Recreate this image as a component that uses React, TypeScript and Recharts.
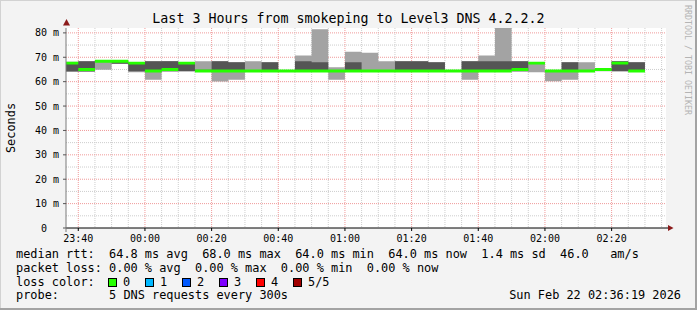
import React from "react";
import { Area, CartesianGrid, ComposedChart, XAxis, YAxis } from "recharts";

// 5 minute steps (start of each step); first one is cut by the 3h window
const stepStart = [
  "23:35", "23:40", "23:45", "23:50", "23:55", "00:00", "00:05", "00:10", "00:15", "00:20",
  "00:25", "00:30", "00:35", "00:40", "00:45", "00:50", "00:55", "01:00", "01:05", "01:10",
  "01:15", "01:20", "01:25", "01:30", "01:35", "01:40", "01:45", "01:50", "01:55", "02:00",
  "02:05", "02:10", "02:15", "02:20", "02:25"
];
const stepEnd = "02:30";

// ms: outer ping, 2nd ping, median, 4th ping, outer ping
const minRtt = [
  64.0, 64.0, 64.9, 67.3, 63.9, 60.8, 64.2, 64.3, 64.2, 60.1,
  60.8, 64.2, 64.2, 64.2, 64.2, 64.2, 60.8, 64.2, 64.2, 64.2,
  64.2, 64.2, 64.2, 64.2, 60.8, 64.2, 64.2, 64.2, 63.9, 60.2,
  60.8, 64.2, 64.3, 64.3, 64.2
];
const loRtt = [
  64.3, 64.3, 68.2, 67.3, 64.3, 64.2, 64.3, 64.3, 64.3, 64.3,
  64.3, 64.3, 64.3, 64.3, 64.3, 64.3, 64.2, 64.3, 64.3, 64.3,
  64.3, 64.3, 64.3, 64.3, 64.3, 64.3, 64.3, 64.3, 67.4, 64.2,
  64.3, 64.3, 64.5, 64.3, 64.3
];
const medianRtt = [
  67.6, 65.0, 68.4, 68.4, 67.6, 64.4, 65.0, 67.6, 64.4, 64.4,
  64.4, 64.4, 64.4, 64.4, 64.4, 64.4, 64.4, 64.4, 64.4, 64.4,
  64.4, 64.4, 64.4, 64.4, 64.4, 64.4, 64.4, 65.0, 67.6, 64.4,
  64.4, 64.4, 65.0, 67.6, 64.4
];
const hiRtt = [
  68.0, 68.4, 68.5, 68.5, 67.8, 68.4, 68.4, 67.9, 64.9, 68.4,
  68.0, 64.8, 68.0, 64.6, 68.4, 68.0, 64.6, 68.0, 64.6, 64.6,
  68.4, 68.4, 68.0, 64.6, 68.4, 68.4, 68.4, 68.4, 67.8, 64.5,
  68.0, 64.6, 65.2, 68.4, 68.0
];
const maxRtt = [
  68.2, 68.4, 68.6, 68.5, 68.0, 68.4, 68.5, 68.0, 68.4, 68.4,
  68.0, 68.4, 68.0, 64.8, 70.7, 81.5, 65.9, 72.3, 71.9, 68.4,
  68.4, 68.4, 68.0, 64.7, 68.4, 70.7, 82.3, 68.4, 67.9, 64.6,
  68.0, 68.0, 65.3, 68.4, 68.0
];

const timeTicks = ["23:40", "00:00", "00:20", "00:40", "01:00", "01:20", "01:40", "02:00", "02:20"];
const rttTicks = [0, 10, 20, 30, 40, 50, 60, 70, 80];
const windowStart = "23:36:19";
const windowEnd = "02:36:19";

const legendLines = [
  "median rtt:  64.8 ms avg  68.0 ms max  64.0 ms min  64.0 ms now  1.4 ms sd  46.0   am/s",
  "packet loss: 0.00 % avg  0.00 % max  0.00 % min  0.00 % now",
  "loss color:",
  "probe:       5 DNS requests every 300s"
];
const lossLabels = ["0", "1", "2", "3", "4", "5/5"];
const lossColors = ["#26ff00", "#00b8ff", "#0059ff", "#7e00ff", "#ff0000", "#a10000"];
const stamp = "Sun Feb 22 02:36:19 2026";

const MONO = "'DejaVu Sans Mono', monospace";
const MED_HALF = 0.6; // half thickness of the median line, in ms

// minutes counted from 23:00
const toMin = (t: string) => {
  const [h, m, s = "0"] = t.split(":");
  const hh = Number(h);
  return (hh >= 23 ? 0 : (hh + 1) * 60) + Number(m) + Number(s) / 60;
};
const fmtMin = (v: number) => {
  const total = Math.round(v) + 23 * 60;
  const h = Math.floor(total / 60) % 24;
  const m = total % 60;
  return `${String(h).padStart(2, "0")}:${String(m).padStart(2, "0")}`;
};

const rows = stepStart.map((t, i) => ({
  t: toMin(t),
  light: [minRtt[i], maxRtt[i]],
  dark: [loRtt[i], hiRtt[i]],
  med: [medianRtt[i] - MED_HALF, medianRtt[i] + MED_HALF]
}));
rows.push({ ...rows[rows.length - 1], t: toMin(stepEnd) });

const x0 = toMin(windowStart);
const x1 = toMin(windowEnd);
const minorTime: number[] = [];
for (let v = 45; v < x1; v += 5) if (v % 20 !== 0) minorTime.push(v);
const majorTime = timeTicks.map(toMin);
const minorRtt = [5, 15, 25, 35, 45, 55, 65, 75];
const majorRtt = rttTicks.filter((v) => v > 0);

const YTick = (props: any) => {
  const { x, y, payload } = props;
  const v = payload.value as number;
  return (
    <text x={x} y={y} dy="0.355em" textAnchor="end" fontFamily={MONO} fontSize={10} fill="#000"
      style={{ whiteSpace: "pre" }}>
      {v === 0 ? "0  " : `${v} m`}
    </text>
  );
};

export default function App() {
  return (
    <div
      style={{
        position: "absolute", left: 0, top: 0, width: 697, height: 310,
        background: "#f3f3f3",
        boxShadow: "inset -2px -2px 0 #a3a3a3, inset 1px 1px 0 #d2d2d2"
      }}
    >
      <ComposedChart width={697} height={310} data={rows}
        margin={{ top: 28, right: 31, bottom: 62, left: 0 }}>
        <CartesianGrid fill="#ffffff" stroke="#cdcdcd" strokeDasharray="1 1"
          horizontalValues={minorRtt} verticalValues={minorTime} />
        <CartesianGrid stroke="#f09a9a" strokeDasharray="1 1"
          horizontalValues={majorRtt} verticalValues={majorTime} />
        <XAxis type="number" dataKey="t" domain={[x0, x1]} allowDataOverflow
          ticks={majorTime} tickFormatter={fmtMin} interval={0}
          tick={{ fontFamily: MONO, fontSize: 10, fill: "#000" }}
          tickSize={3} tickMargin={3.6} height={20}
          axisLine={{ stroke: "#000" }} tickLine={{ stroke: "#000" }} />
        <YAxis type="number" domain={[0, 82]} allowDataOverflow ticks={rttTicks} interval={0}
          width={66} tick={<YTick />} tickSize={3} tickMargin={4}
          axisLine={{ stroke: "#7a7a7a" }} tickLine={{ stroke: "#555" }} />
        <Area type="stepAfter" dataKey="light" fill="#a3a3a3" fillOpacity={1} stroke="none"
          isAnimationActive={false} />
        <Area type="stepAfter" dataKey="dark" fill="#555555" fillOpacity={1} stroke="none"
          isAnimationActive={false} />
        <Area type="stepAfter" dataKey="med" fill="#26ff00" fillOpacity={1} stroke="none"
          isAnimationActive={false} />
      </ComposedChart>

      <svg width={697} height={310}
        style={{ position: "absolute", left: 0, top: 0, pointerEvents: "none" }}>
        <text x={348.5} y={22.5} textAnchor="middle" fontFamily={MONO} fontSize={13.3} fill="#000">
          Last 3 Hours from smokeping to Level3 DNS 4.2.2.2
        </text>
        <text x={14.5} y={128} transform="rotate(-90 14.5 128)" textAnchor="middle"
          fontFamily={MONO} fontSize={11.9} fill="#000">
          Seconds
        </text>
        <text x={685} y={5} transform="rotate(90 685 5)" fontFamily={MONO} fontSize={8.3} fill="#b4b4b4">
          RRDTOOL / TOBI OETIKER
        </text>
        {/* axis arrows */}
        <polygon points="63,25.5 70,25.5 66.5,19" fill="#8b1a1a" />
        <line x1={666} y1={228} x2={668} y2={228} stroke="#000" />
        <polygon points="668,225 668,231 673.5,228" fill="#8b1a1a" />
        <line x1={66} y1={228} x2={66} y2={232} stroke="#7a7a7a" />

        {legendLines.map((line, i) => (
          <text key={i} x={16} y={257.8 + i * 13.85} fontFamily={MONO} fontSize={11.9} fill="#000"
            style={{ whiteSpace: "pre" }}>
            {line}
          </text>
        ))}
        {lossLabels.map((lbl, i) => (
          <g key={lbl}>
            <rect x={108.5 + i * 37} y={278.5} width={8} height={8} fill={lossColors[i]} stroke="#000" />
            <text x={123 + i * 37} y={285.5} fontFamily={MONO} fontSize={11.9} fill="#000">{lbl}</text>
          </g>
        ))}
        <text x={681} y={299.3} textAnchor="end" fontFamily={MONO} fontSize={11.9} fill="#000">
          {stamp}
        </text>
      </svg>
    </div>
  );
}
